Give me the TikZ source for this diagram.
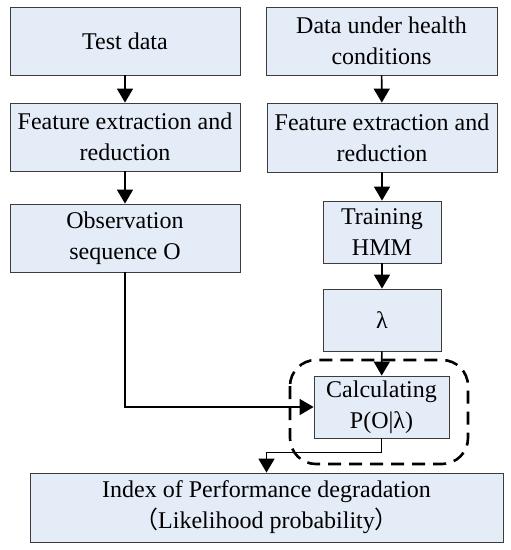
\documentclass[tikz,border=0pt]{standalone}
\usepackage{fontspec}
\setmainfont{Liberation Serif}
\newfontfamily\cjk{Noto Sans CJK SC}
\usetikzlibrary{positioning,arrows.meta}
\definecolor{boxfill}{RGB}{228,236,247}
\definecolor{boxline}{RGB}{60,60,60}
\tikzset{
	flow/.style={x=1pt,y=-1pt,font=\fontsize{24}{31}\selectfont},
	block/.style={rectangle,draw=boxline,line width=0.8pt,fill=boxfill,align=center,inner sep=2pt},
	wide/.style={block,minimum width=230pt,minimum height=68pt},
	narrow/.style={block,minimum width=118pt,minimum height=62pt},
	arr/.style={-{Triangle[width=16pt,length=14pt]},line width=1.6pt},
	group/.style={dashed,line width=2.6pt,dash pattern=on 13pt off 8pt,rounded corners=26pt}
}

\begin{document}
\begin{tikzpicture}[flow]
	\useasboundingbox (0,0) rectangle (511,550);
	
	\node[wide] (test) at (125,41) {Test data};
	\node[wide] (featl) at (125,137) {Feature extraction and\\reduction};
	\node[wide] (obs) at (125,238) {Observation\\sequence O};
	\node[wide,minimum width=231pt] (health) at (381.5,41) {Data under health\\conditions};
	\node[wide,minimum height=69pt] (featr) at (382,137.5) {Feature extraction and\\reduction};
	\node[narrow] (train) at (382,232) {Training\\HMM};
	\node[narrow] (lam) at (382,320) {λ};
	\node[block,minimum width=135pt,minimum height=62pt] (calc) at (381.5,407) {Calculating\\P(O|λ)};
	\node[block,minimum width=473pt,minimum height=69pt] (index) at (266.5,507.5) {Index of Performance degradation\\{\cjk （}Likelihood probability{\cjk ）}};
	
	\draw[group] (290,360) rectangle (468,464);
	
	\draw[arr] (test) -- (featl);
	\draw[arr] (featl) -- (obs);
	\draw[arr] (health) -- (featr);
	\draw[arr] (featr) -- (train);
	\draw[arr] (train) -- (lam);
	\draw[arr] (lam) -- (calc);
	\draw[arr] (obs.south) |- (calc.west);
	\draw[arr] (calc.south) -- ++(0,14) -| (index.north);
\end{tikzpicture}
\end{document}
